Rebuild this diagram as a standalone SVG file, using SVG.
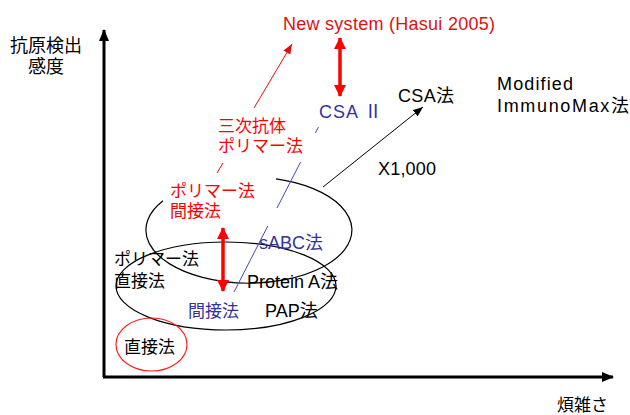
<svg xmlns="http://www.w3.org/2000/svg" width="630" height="415" viewBox="0 0 630 415">
<style>
text{font-family:"Liberation Sans","Noto Sans CJK JP",Arial,sans-serif;font-size:18px;fill:#000}
.jp{font-family:"Noto Sans CJK JP","Liberation Sans",sans-serif;font-size:17px}
.red{fill:#ff0000}
.dred{fill:#dd1111}
.blue{fill:#333399}
.ax{stroke:#000;stroke-width:3;fill:none}
.ell{fill:none;stroke:#000;stroke-width:1.2}
</style>
<defs>
<marker id="axh" markerUnits="userSpaceOnUse" markerWidth="12" markerHeight="10" refX="11" refY="5" orient="auto"><path d="M0,0 L12,5 L0,10 z" fill="#000"/></marker>
<marker id="bh" markerUnits="userSpaceOnUse" markerWidth="10" markerHeight="8" refX="10" refY="4" orient="auto"><path d="M0,0 L10,4 L0,8 z" fill="#000"/></marker>
<marker id="rh" markerUnits="userSpaceOnUse" markerWidth="10" markerHeight="8" refX="10" refY="4" orient="auto"><path d="M0,0 L10,4 L0,8 z" fill="#e01010"/></marker>
<marker id="rbe" markerUnits="userSpaceOnUse" markerWidth="12" markerHeight="12" refX="11" refY="6" orient="auto-start-reverse"><path d="M0,0 L12,6 L0,12 z" fill="#ff0000"/></marker>
</defs>
<g id="axes">
<line class="ax" x1="104" y1="377" x2="104" y2="30" marker-end="url(#axh)"/>
<line class="ax" x1="103" y1="377" x2="613" y2="377" marker-end="url(#axh)"/>
</g>
<g id="shapes">
<path class="ell" d="M276,178.9 A103,53 0 1 1 163,200.8"/>
<ellipse class="ell" cx="226" cy="286" rx="110" ry="44"/>
<ellipse cx="151.5" cy="344.5" rx="35.5" ry="26.5" fill="none" stroke="#ff2020" stroke-width="1.2"/>
</g>
<g id="connectors">
<line x1="217" y1="173" x2="223" y2="163" stroke="#e01010" stroke-width="1"/>
<line x1="254" y1="108" x2="292" y2="44" stroke="#e01010" stroke-width="1" marker-end="url(#rh)"/>
<line x1="323" y1="187" x2="423" y2="107" stroke="#000" stroke-width="1" marker-end="url(#bh)"/>
<g stroke="#4848b0" stroke-width="1">
<line x1="234" y1="292" x2="267.8" y2="226"/>
<line x1="277" y1="208" x2="300.6" y2="162"/>
<line x1="315.4" y1="133" x2="318.5" y2="127"/>
</g>
<line x1="223" y1="228" x2="223" y2="291" stroke="#ff0000" stroke-width="3.5" marker-start="url(#rbe)" marker-end="url(#rbe)"/>
<line x1="340" y1="38" x2="340" y2="96" stroke="#ff0000" stroke-width="3.5" marker-start="url(#rbe)" marker-end="url(#rbe)"/>
</g>
<g id="labels">
<text class="jp" x="10" y="52" font-size="18" style="font-size:18px">抗原検出</text>
<text class="jp" x="28" y="73" style="font-size:18px">感度</text>
<text class="jp" x="557" y="411">煩雑さ</text>
</g>
<g id="n-newsystem"><text class="dred" x="283" y="30" textLength="212">New system (Hasui 2005)</text></g>
<g id="n-csa2"><text class="blue" x="319" y="118" font-size="16" textLength="63">CSA Ⅱ</text></g>
<g id="n-csa"><text x="398" y="102" textLength="56">CSA法</text></g>
<g id="n-immunomax">
<text x="497" y="90" font-size="16" textLength="76">Modified</text>
<text x="497" y="112" font-size="16" textLength="132">ImmunoMax法</text>
</g>
<g id="n-x1000"><text x="378" y="175" textLength="58">X1,000</text></g>
<g id="n-sanji"><text class="jp red" x="218" y="132">三次抗体</text><text class="jp red" x="218" y="152">ポリマー法</text></g>
<g id="n-polykansetsu"><text class="jp red" x="170" y="197">ポリマー法</text><text class="jp red" x="170" y="217">間接法</text></g>
<g id="n-sabc"><text class="blue" x="259" y="249">sABC法</text></g>
<g id="n-polychoku"><text class="jp" x="114" y="265">ポリマー法</text><text class="jp" x="114" y="287">直接法</text></g>
<g id="n-proteina"><text x="247" y="288">Protein A法</text></g>
<g id="n-kansetsu"><text class="jp blue" x="188" y="317">間接法</text></g>
<g id="n-pap"><text x="265" y="317">PAP法</text></g>
<g id="n-chokusetsu"><text class="jp" x="124" y="353">直接法</text></g>
</svg>
